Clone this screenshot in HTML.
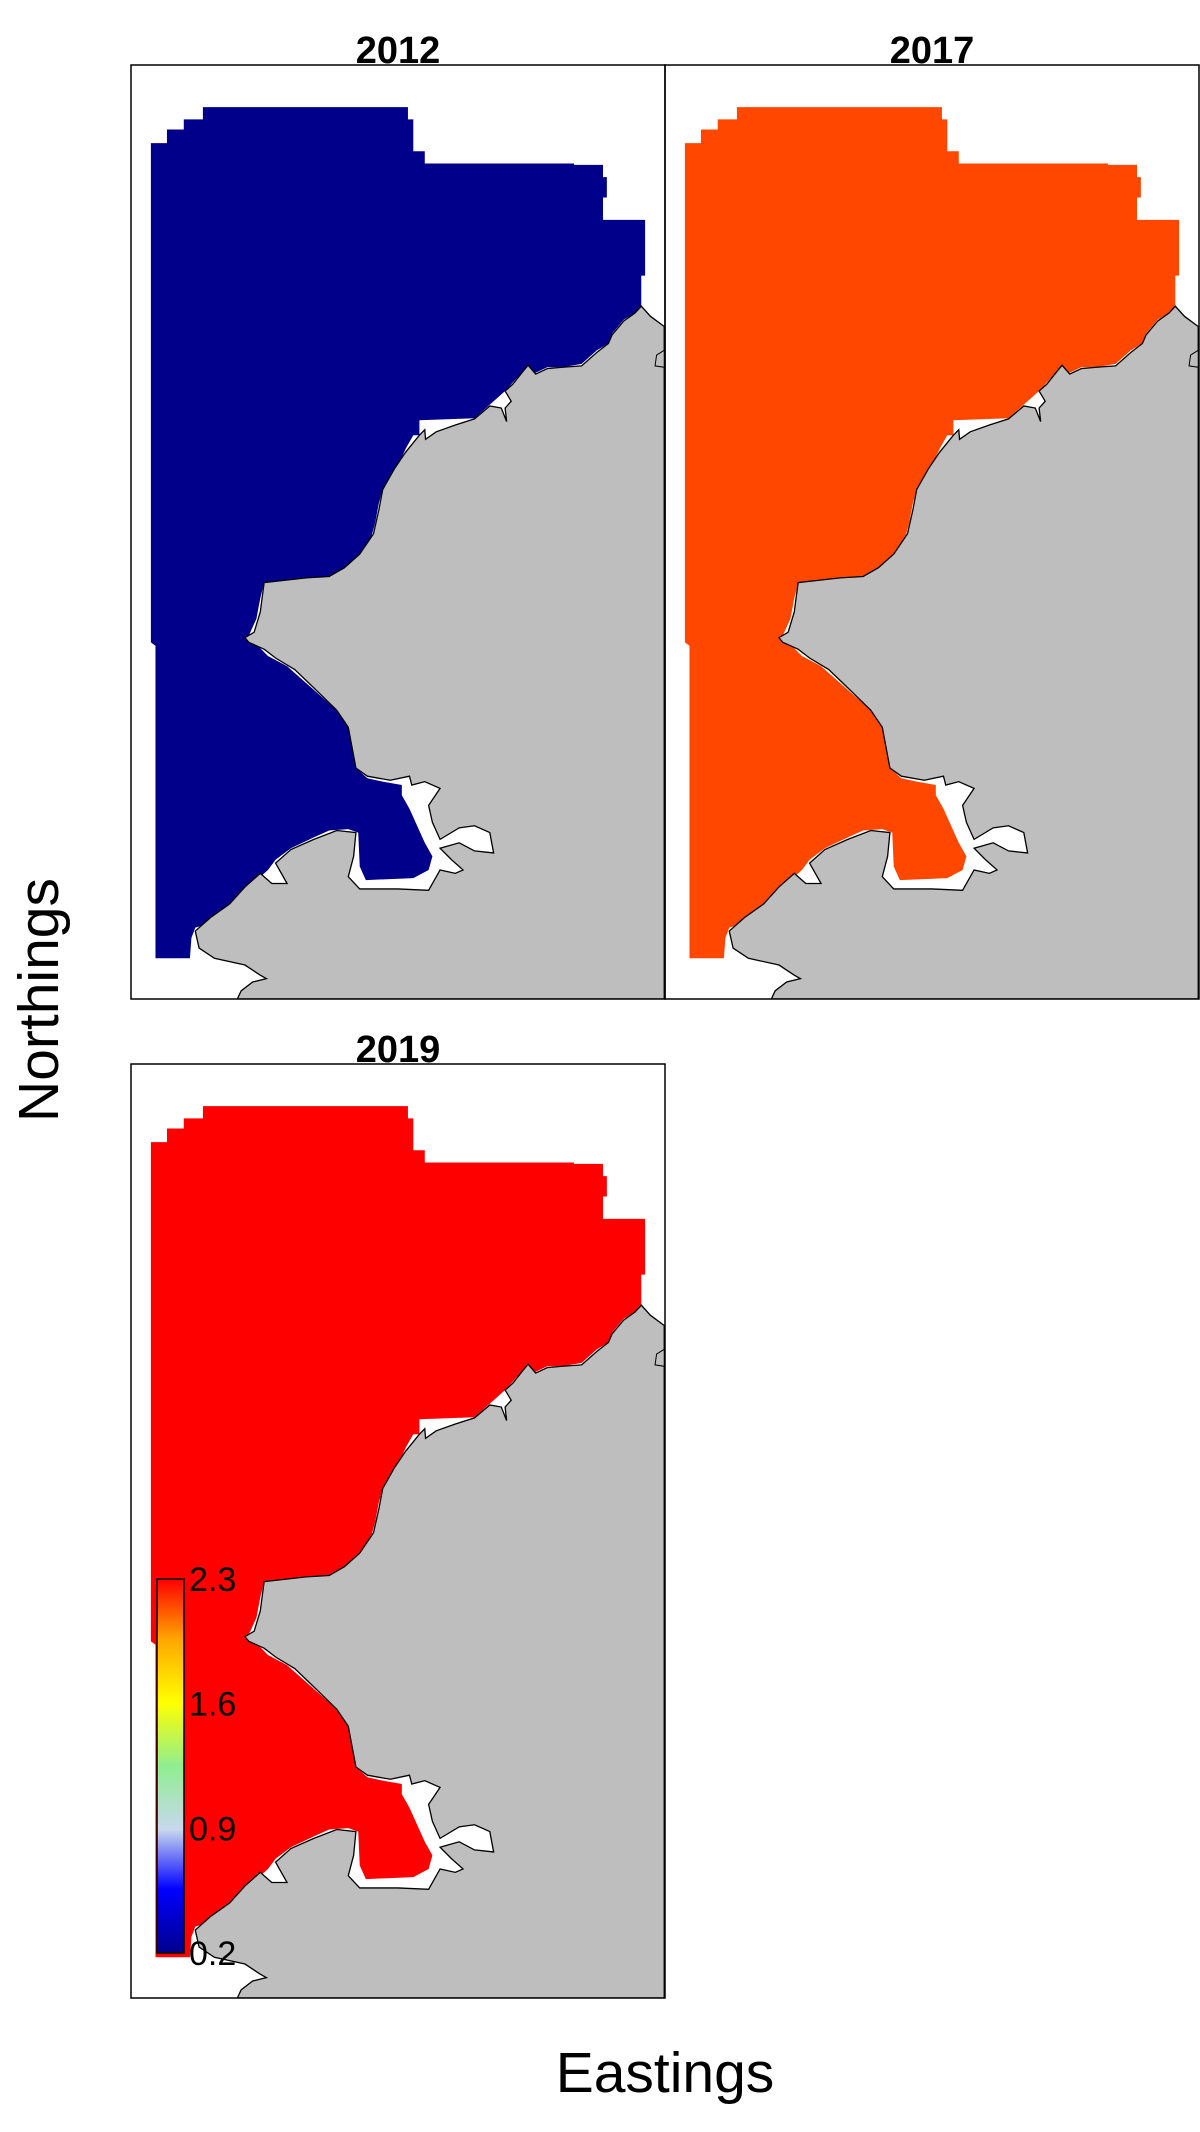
<!DOCTYPE html>
<html><head><meta charset="utf-8"><style>
html,body{margin:0;padding:0;background:#fff;}
svg{display:block;font-family:"Liberation Sans",sans-serif;}
</style></head><body>
<svg id="chart" width="1200" height="2132" viewBox="0 0 1200 2132" xmlns="http://www.w3.org/2000/svg">
<defs>
<linearGradient id="cbar" x1="0" y1="1" x2="0" y2="0">
<stop offset="0" stop-color="#00008B"/>
<stop offset="0.17" stop-color="#0000FF"/>
<stop offset="0.33" stop-color="#C8D8EE"/>
<stop offset="0.5" stop-color="#90EE90"/>
<stop offset="0.67" stop-color="#FFFF00"/>
<stop offset="0.84" stop-color="#FFA500"/>
<stop offset="1" stop-color="#FF0000"/>
</linearGradient>
</defs>
<g id="panels"></g>
<text x="0" y="0" transform="translate(58,1000) rotate(-90)" text-anchor="middle" font-size="57">Northings</text>
<text x="665" y="2092" text-anchor="middle" font-size="57">Eastings</text>
<g>
<rect x="157" y="1579" width="27" height="374" fill="url(#cbar)" stroke="#000" stroke-width="1.5"/>
<g id="cbticks" font-size="34"></g>
</g>
</svg>
<script>
const years = ["2012", "2017", "2019"];
const values = [0.2, 2.15, 2.3];
const tickLabels = ["2.3", "1.6", "0.9", "0.2"];
const tickValues = [2.3, 1.6, 0.9, 0.2];

const NS = "http://www.w3.org/2000/svg";
const vmin = 0.2, vmax = 2.3;
const stops = [[0,[0,0,139]],[0.17,[0,0,255]],[0.33,[200,216,238]],[0.5,[144,238,144]],[0.67,[255,255,0]],[0.84,[255,165,0]],[0.93,[255,69,0]],[1,[255,0,0]]];
function colorScale(v){
  const t = Math.max(0, Math.min(1, (v - vmin) / (vmax - vmin)));
  for (let i = 1; i < stops.length; i++) {
    if (t <= stops[i][0]) {
      const a = stops[i-1], b = stops[i];
      const f = (t - a[0]) / (b[0] - a[0]);
      const c = a[1].map((x, k) => Math.round(x + (b[1][k] - x) * f));
      return "rgb(" + c.join(",") + ")";
    }
  }
  return "rgb(255,0,0)";
}
function cbY(v){ return 1953 - (v - vmin) / (vmax - vmin) * (1953 - 1579); }

const seaPts = "265,157 533,157 533,175 540,175 540,222 555,222 555,240 750,240 750,242 788,242 788,260 793,260 793,290 788,290 788,323 843,323 843,405 838,405 838,450 830,460 815,470 800,490 795,505 780,515 760,535 735,540 715,540 700,548 690,545 680,550 660,575 640,595 620,615 548,618 548,640 540,640 530,660 520,685 510,705 500,720 495,740 490,770 485,790 470,815 450,835 435,848 400,855 345,857 340,880 335,910 325,935 320,940 335,948 350,965 375,980 385,990 410,1015 440,1045 455,1065 460,1100 465,1130 480,1145 500,1150 525,1155 525,1170 535,1190 545,1215 555,1240 565,1260 560,1280 540,1292 478,1295 470,1275 468,1225 455,1220 430,1222 410,1232 380,1248 360,1265 350,1280 330,1300 310,1320 290,1340 270,1360 255,1365 250,1380 248,1410 203,1410 203,950 197,945 197,210 218,210 218,190 240,190 240,175 265,175";
const landPts = "868,480 850,465 838,450 830,460 815,472 800,492 795,505 780,518 760,538 735,540 715,542 700,550 690,537 682,548 670,565 660,575 668,590 660,600 662,620 655,600 640,597 620,616 595,625 570,635 556,646 555,632 548,640 530,665 515,690 500,720 495,750 488,785 470,815 450,835 430,848 400,850 345,857 340,900 332,930 320,938 325,945 345,955 360,968 385,985 410,1012 440,1045 455,1070 460,1100 465,1130 480,1142 510,1148 535,1142 538,1155 555,1150 575,1160 560,1185 565,1210 575,1235 600,1218 620,1215 640,1225 645,1255 620,1252 600,1240 575,1248 590,1265 605,1280 595,1285 575,1280 560,1310 520,1308 470,1308 455,1290 462,1260 465,1225 440,1222 410,1235 380,1250 360,1270 375,1300 355,1300 340,1285 320,1305 300,1330 275,1350 255,1370 260,1395 280,1410 320,1420 340,1435 348,1440 330,1445 315,1458 310,1470 868,1470";

const panelPos = [[131,65],[665,65],[131,1064]];
const pw = 534, ph = 934;
const panels = document.getElementById("panels");
years.forEach((yr, i) => {
  const [px, py] = panelPos[i];
  const g = document.createElementNS(NS, "g");
  
  
  const clip = document.createElementNS(NS, "clipPath");
  clip.setAttribute("id", "clip" + i);
  const cr = document.createElementNS(NS, "rect");
  cr.setAttribute("x", px); cr.setAttribute("y", py); cr.setAttribute("width", pw); cr.setAttribute("height", ph);
  clip.appendChild(cr); g.appendChild(clip);
  const inner = document.createElementNS(NS, "g");
  inner.setAttribute("clip-path", "url(#clip" + i + ")");
  const m = document.createElementNS(NS, "g");
  m.setAttribute("transform", `translate(${px},${py}) scale(${pw/698},${ph/1375}) translate(-171,-95)`);
  const sea = document.createElementNS(NS, "polygon");
  
  
  sea.setAttribute("points", seaPts);
  sea.setAttribute("fill", colorScale(values[i]));
  m.appendChild(sea);
  const land = document.createElementNS(NS, "polygon");
  
  
  land.setAttribute("points", landPts);
  land.setAttribute("fill", "#BEBEBE");
  land.setAttribute("stroke", "#000");
  land.setAttribute("stroke-width", "1.3");
  land.setAttribute("vector-effect", "non-scaling-stroke");
  m.appendChild(land);
  const islet = document.createElementNS(NS, "polygon");
  
  
  islet.setAttribute("points", "868,515 858,522 856,538 868,540");
  islet.setAttribute("fill", "#BEBEBE");
  islet.setAttribute("stroke", "#000");
  islet.setAttribute("vector-effect", "non-scaling-stroke");
  m.appendChild(islet);
  inner.appendChild(m); g.appendChild(inner);
  const border = document.createElementNS(NS, "rect");
  
  
  border.setAttribute("x", px); border.setAttribute("y", py); border.setAttribute("width", pw); border.setAttribute("height", ph);
  border.setAttribute("fill", "none"); border.setAttribute("stroke", "#000"); border.setAttribute("stroke-width", "1.5");
  g.appendChild(border);
  const t = document.createElementNS(NS, "text");
  
  
  t.setAttribute("x", px + pw / 2); t.setAttribute("y", py - 2);
  t.setAttribute("text-anchor", "middle"); t.setAttribute("font-size", "38"); t.setAttribute("font-weight", "bold");
  t.textContent = yr;
  g.appendChild(t);
  panels.appendChild(g);
});
const cb = document.getElementById("cbticks");
tickLabels.forEach((lab, i) => {
  const t = document.createElementNS(NS, "text");
  
  
  t.setAttribute("x", 189); t.setAttribute("y", cbY(tickValues[i]) + 12);
  t.textContent = lab;
  cb.appendChild(t);
});
</script>
</body></html>
